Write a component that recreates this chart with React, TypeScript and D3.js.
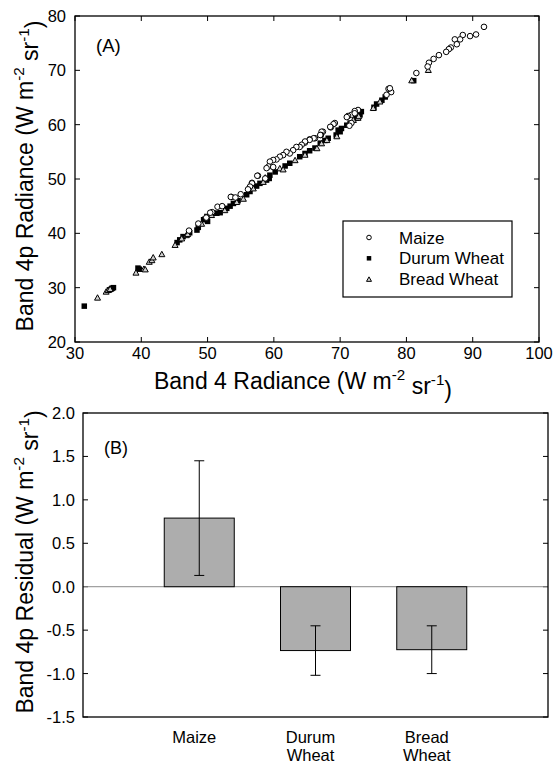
import React from "react";
import * as d3 from "d3";

// ---------- Panel A data: [Band 4 radiance, Band 4p radiance] ----------
const maizePoints: [number, number][] = [
  [91.7, 78.0], [90.5, 76.6], [89.6, 76.3], [88.5, 76.5], [88.1, 75.7], [87.3, 75.7], [87.6, 74.8],
  [86.7, 74.2], [86.4, 73.9], [86.0, 73.4], [84.9, 72.8], [84.1, 72.1], [83.4, 71.4], [83.2, 70.7],
  [81.5, 69.5], [77.7, 66.0], [77.3, 66.6], [77.5, 66.7], [77.0, 65.5],
  [72.7, 62.7], [72.2, 62.5], [71.7, 61.8], [71.2, 61.6], [72.2, 62.1], [71.0, 61.4], [71.7, 60.3], [71.4, 59.8],
  [69.2, 60.3], [69.0, 60.1], [68.6, 59.5], [68.5, 59.6], [67.4, 58.7], [67.2, 58.7], [67.1, 58.1], [67.0, 58.1],
  [66.2, 57.5], [66.0, 57.5], [65.4, 57.3], [65.4, 57.2], [64.7, 56.7], [64.7, 56.9], [64.2, 56.3], [63.9, 55.9],
  [63.4, 55.9], [62.9, 55.3], [62.4, 54.7], [61.9, 55.0], [61.4, 54.4], [60.9, 54.1], [60.4, 53.6], [59.9, 53.5],
  [59.4, 53.2], [59.2, 52.3], [58.9, 52.0], [59.9, 52.2], [58.7, 50.1], [57.6, 50.6], [57.5, 50.6], [56.7, 49.3],
  [56.7, 49.2], [56.4, 48.6], [56.1, 48.1], [53.6, 46.7], [53.5, 46.7], [51.5, 44.9], [50.7, 43.9], [50.4, 43.8],
  [55.0, 47.2], [54.2, 46.6], [52.2, 45.0], [49.8, 42.9], [48.6, 41.8], [47.2, 40.5],
];

const durumPoints: [number, number][] = [
  [31.4, 26.6], [35.2, 29.6], [35.5, 29.8], [35.8, 30.0], [35.6, 29.9], [39.5, 33.6], [39.7, 33.4],
  [45.4, 38.3], [45.8, 38.8], [46.3, 39.4], [47.3, 40.1], [48.4, 40.6], [48.6, 41.1], [49.4, 42.5],
  [49.6, 42.6], [49.9, 43.1], [50.0, 42.2], [50.9, 43.7], [51.4, 43.7], [51.9, 43.8], [52.9, 44.6],
  [53.4, 45.0], [53.9, 45.5], [54.6, 46.0], [55.9, 47.1], [56.4, 47.7], [57.4, 48.7], [57.9, 49.2],
  [58.9, 49.8], [59.3, 50.1], [59.4, 50.7], [60.2, 51.3], [61.7, 52.4], [62.4, 52.9], [63.9, 54.1],
  [64.7, 54.7], [65.4, 55.2], [66.2, 55.7], [67.0, 56.6], [67.7, 57.1], [68.2, 57.5], [69.4, 58.1],
  [69.7, 59.0], [70.0, 58.7], [70.2, 59.3], [71.0, 59.9], [71.5, 60.3], [72.5, 61.2], [73.0, 61.8],
  [73.2, 62.4], [75.1, 63.2], [75.5, 63.8], [76.3, 64.5], [76.8, 65.1], [81.1, 68.1],
];

const breadPoints: [number, number][] = [
  [33.4, 28.2], [34.7, 29.3], [35.0, 29.6], [35.3, 29.8], [39.2, 32.8], [40.4, 33.5], [40.6, 33.4],
  [41.2, 34.8], [41.6, 35.1], [41.8, 35.6], [43.1, 36.2], [45.1, 37.9], [46.1, 39.1], [46.8, 39.7],
  [47.0, 39.9], [49.1, 41.8], [50.6, 43.4], [52.6, 44.3], [54.4, 45.8], [55.4, 46.4], [56.9, 48.3],
  [58.4, 49.5], [58.7, 50.3], [60.9, 52.0], [61.4, 51.8], [63.2, 53.5], [64.7, 54.5], [66.5, 55.7],
  [67.2, 56.6], [68.0, 57.2], [69.5, 57.9], [72.0, 60.9], [72.7, 61.3], [72.8, 61.6], [75.0, 63.1],
  [76.0, 64.3], [80.8, 68.2], [83.3, 70.1],
];

const xTicksA = [30, 40, 50, 60, 70, 80, 90, 100];
const yTicksA = [20, 30, 40, 50, 60, 70, 80];
const legendLabels = ["Maize", "Durum Wheat", "Bread Wheat"];

// ---------- Panel B data ----------
const categories = [["Maize"], ["Durum", "Wheat"], ["Bread", "Wheat"]];
const residuals = [0.79, -0.735, -0.725];
const residualErr = [0.66, 0.285, 0.275];
const yTicksB = [-1.5, -1.0, -0.5, 0.0, 0.5, 1.0, 1.5, 2.0];

const FONT = "Liberation Sans, Arial, Helvetica, sans-serif";

function Unit() {
  return (
    <>
      {" (W m"}
      <tspan dy="-0.6em" fontSize="0.66em">-2</tspan>
      <tspan dy="0.6em">{" sr"}</tspan>
      <tspan dy="-0.6em" fontSize="0.66em">-1</tspan>
      <tspan dy="0.6em">)</tspan>
    </>
  );
}

function Circle({ x, y, r = 2.8 }: { x: number; y: number; r?: number }) {
  return <circle cx={x} cy={y} r={r} fill="white" stroke="black" strokeWidth={1} />;
}
function Square({ x, y, s = 5.5 }: { x: number; y: number; s?: number }) {
  return <rect x={x - s / 2} y={y - s / 2} width={s} height={s} fill="black" />;
}
function Tri({ x, y, s = 6 }: { x: number; y: number; s?: number }) {
  const h = s * 0.9;
  const p = `M${x},${y - h / 2}L${x + s / 2},${y + h / 2}L${x - s / 2},${y + h / 2}Z`;
  return <path d={p} fill="#cfcfcf" stroke="black" strokeWidth={1} />;
}

export default function App() {
  const xA = d3.scaleLinear().domain([30, 100]).range([75, 539]);
  const yA = d3.scaleLinear().domain([20, 80]).range([342, 16]);
  const yB = d3.scaleLinear().domain([-1.5, 2.0]).range([717, 413]);
  const xB = d3.scalePoint<number>().domain([0, 1, 2, 3, 4]).range([83, 548]);
  const barW = 70;
  const tick = 5;

  return (
    <svg width={553} height={764} style={{ position: "absolute", left: 0, top: 0 }} fontFamily={FONT}>
      <rect width={553} height={764} fill="white" />

      {/* ===== Panel A ===== */}
      <g>
        {xTicksA.map((t) => (
          <g key={"xa" + t}>
            <line x1={xA(t)} x2={xA(t)} y1={342} y2={342 - tick} stroke="black" />
            <line x1={xA(t)} x2={xA(t)} y1={16} y2={16 + tick} stroke="black" />
            <text x={xA(t)} y={358.5} textAnchor="middle" fontSize={16.5}>{t}</text>
          </g>
        ))}
        {yTicksA.map((t) => (
          <g key={"ya" + t}>
            <line x1={75} x2={75 + tick} y1={yA(t)} y2={yA(t)} stroke="black" />
            <line x1={539} x2={539 - tick} y1={yA(t)} y2={yA(t)} stroke="black" />
            <text x={66} y={yA(t)} dy="0.36em" textAnchor="end" fontSize={16.5}>{t}</text>
          </g>
        ))}
        {durumPoints.map((d, i) => <Square key={"d" + i} x={xA(d[0])} y={yA(d[1])} />)}
        {breadPoints.map((d, i) => <Tri key={"b" + i} x={xA(d[0])} y={yA(d[1])} />)}
        {maizePoints.map((d, i) => <Circle key={"m" + i} x={xA(d[0])} y={yA(d[1])} />)}
        <rect x={75} y={16} width={539 - 75} height={342 - 16} fill="none" stroke="black" strokeWidth={1.3} />
        <text x={96} y={51.5} fontSize={18.5}>(A)</text>

        {/* legend */}
        <rect x={343} y={221} width={169} height={76} fill="white" stroke="black" strokeWidth={1.2} />
        {legendLabels.map((l, i) => {
          const cy = 237.5 + i * 20.8;
          return (
            <g key={l}>
              {i === 0 && <Circle x={369} y={cy} r={2.3} />}
              {i === 1 && <Square x={369} y={cy} s={4.5} />}
              {i === 2 && <Tri x={369} y={cy} s={5} />}
              <text x={399} y={cy} dy="0.36em" fontSize={17}>{l}</text>
            </g>
          );
        })}

        <text x={303} y={389} textAnchor="middle" fontSize={23}>
          Band 4 Radiance<Unit />
        </text>
        <text transform="translate(33,176) rotate(-90)" textAnchor="middle" fontSize={23}>
          Band 4p Radiance<Unit />
        </text>
      </g>

      {/* ===== Panel B ===== */}
      <g>
        {yTicksB.map((t) => (
          <g key={"yb" + t}>
            <line x1={83} x2={83 + tick} y1={yB(t)} y2={yB(t)} stroke="black" />
            <line x1={548} x2={548 - tick} y1={yB(t)} y2={yB(t)} stroke="black" />
            <text x={75} y={yB(t)} dy="0.36em" textAnchor="end" fontSize={16.5}>{t.toFixed(1)}</text>
          </g>
        ))}
        <line x1={83} x2={548} y1={yB(0)} y2={yB(0)} stroke="#8a8a8a" strokeWidth={1} />
        {residuals.map((v, i) => {
          const cx = xB(i + 1)!;
          const y0 = yB(0), y1 = yB(v);
          return (
            <g key={"bar" + i}>
              <rect x={cx - barW / 2} y={Math.min(y0, y1)} width={barW} height={Math.abs(y1 - y0)}
                fill="#adadad" stroke="black" strokeWidth={1} />
              <line x1={cx} x2={cx} y1={yB(v + residualErr[i])} y2={yB(v - residualErr[i])} stroke="black" />
              <line x1={cx - 5} x2={cx + 5} y1={yB(v + residualErr[i])} y2={yB(v + residualErr[i])} stroke="black" />
              <line x1={cx - 5} x2={cx + 5} y1={yB(v - residualErr[i])} y2={yB(v - residualErr[i])} stroke="black" />
              <text x={cx - 5} y={742.5} textAnchor="middle" fontSize={16.5}>
                {categories[i].map((c, j) => (
                  <tspan key={c} x={cx - 5} dy={j === 0 ? 0 : 18}>{c}</tspan>
                ))}
              </text>
            </g>
          );
        })}
        <rect x={83} y={413} width={548 - 83} height={717 - 413} fill="none" stroke="black" strokeWidth={1.3} />
        <text x={104} y={454} fontSize={18}>(B)</text>
        <text transform="translate(33,562) rotate(-90)" textAnchor="middle" fontSize={23}>
          Band 4p Residual<Unit />
        </text>
      </g>
    </svg>
  );
}
